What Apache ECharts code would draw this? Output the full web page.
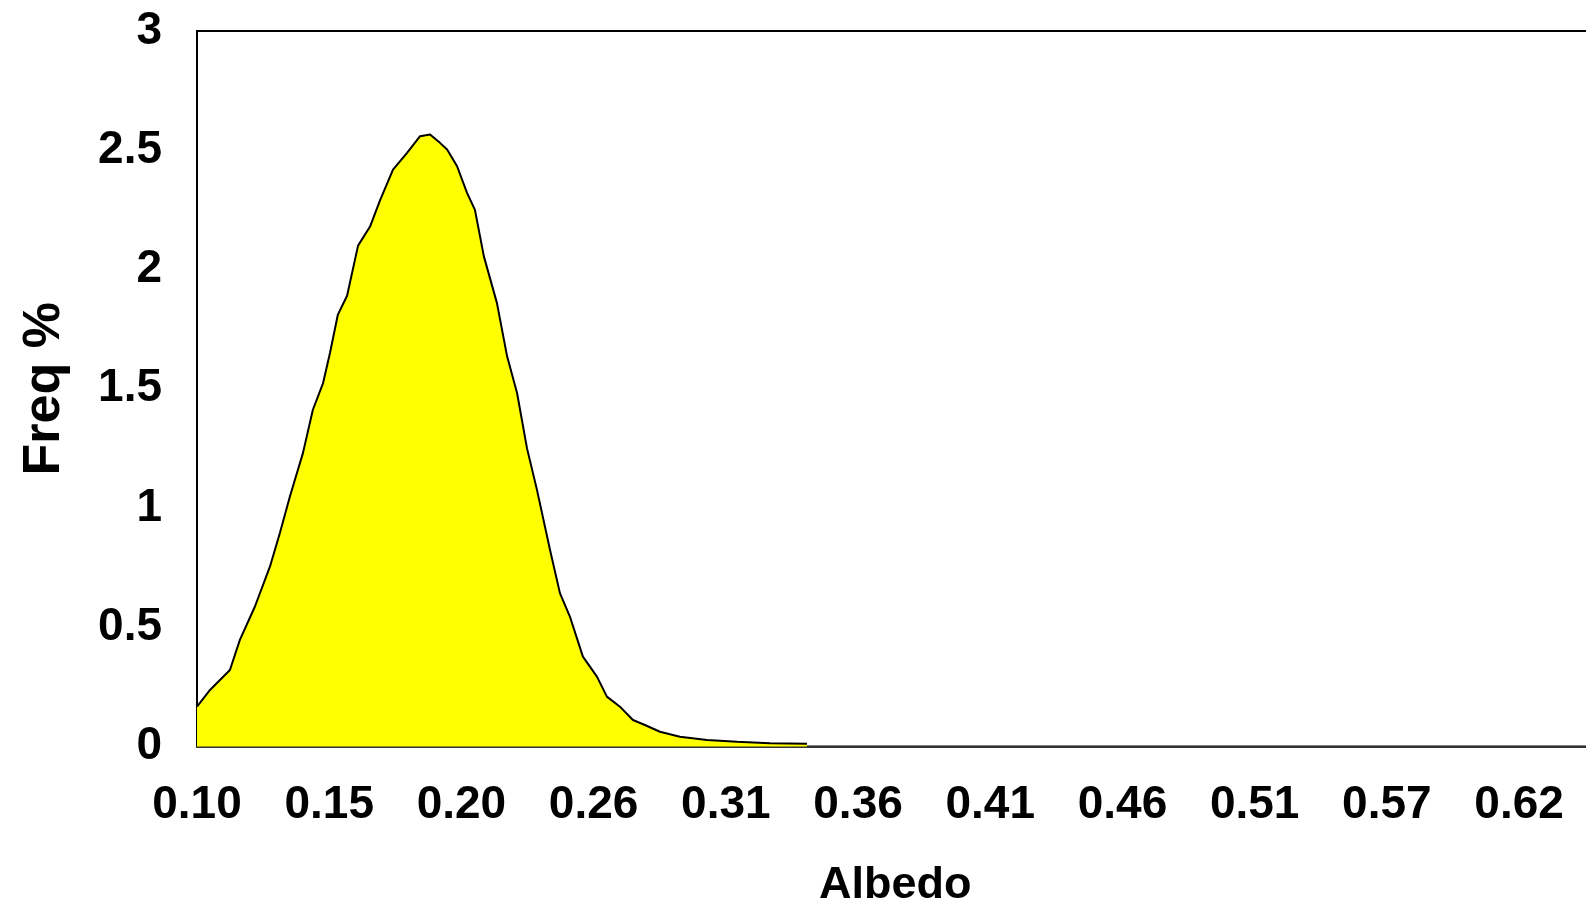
<!DOCTYPE html>
<html>
<head>
<meta charset="utf-8">
<script src="https://cdn.jsdelivr.net/npm/echarts@6/dist/echarts.min.js"></script>
<style>
  html, body { margin: 0; padding: 0; background: #fff; overflow: hidden; width: 1586px; height: 903px; }
  #chart { width: 1700px; height: 903px; }
</style>
</head>
<body>
<div id="chart"></div>
<script>
// Albedo values (x) and frequency % (y)
const albedo = [0.1000, 0.1051, 0.1129, 0.1168, 0.1227, 0.1286, 0.1325, 0.1364, 0.1415, 0.1454,
  0.1494, 0.1521, 0.1552, 0.1588, 0.1631, 0.1678, 0.1717, 0.1768, 0.1823, 0.1874,
  0.1913, 0.1952, 0.1980, 0.2019, 0.2058, 0.2089, 0.2124, 0.2175, 0.2215, 0.2254,
  0.2293, 0.2332, 0.2383, 0.2422, 0.2461, 0.2512, 0.2567, 0.2606, 0.2657, 0.2708,
  0.2755, 0.2814, 0.2892, 0.2998, 0.3116, 0.3245, 0.3390];
const freq = [0.167, 0.237, 0.321, 0.447, 0.587, 0.755, 0.896, 1.048, 1.230, 1.412,
  1.524, 1.650, 1.811, 1.890, 2.100, 2.180, 2.290, 2.419, 2.489, 2.559,
  2.566, 2.531, 2.503, 2.433, 2.321, 2.250, 2.055, 1.860, 1.636, 1.482,
  1.250, 1.076, 0.825, 0.643, 0.545, 0.377, 0.293, 0.209, 0.167, 0.111,
  0.090, 0.062, 0.041, 0.027, 0.020, 0.014, 0.012];
// X tick labels (one per label slot) and their albedo spacing
const xTickLabels = ['0.10', '0.15', '0.20', '0.26', '0.31', '0.36', '0.41', '0.46', '0.51', '0.57', '0.62', '0.67'];
const xStart = 0.10;
const xStep = 0.0518;
const yTickLabels = ['0', '0.5', '1', '1.5', '2', '2.5', '3'];

const seriesData = albedo.map((a, i) => [(a - xStart) / xStep, freq[i]]);

const font = '"Liberation Sans", Arial, sans-serif';
const chart = echarts.init(document.getElementById('chart'), null, { renderer: 'canvas' });
chart.setOption({
  backgroundColor: '#ffffff',
  animation: false,
  grid: {
    left: 197, top: 31, bottom: 156.5, right: 48.7,
    outerBoundsMode: 'none', containLabel: false,
    show: true, borderColor: '#000', borderWidth: 2, backgroundColor: 'transparent'
  },
  xAxis: {
    type: 'value',
    min: 0, max: xTickLabels.length - 1, interval: 1,
    name: 'Albedo', nameLocation: 'middle', nameGap: 117,
    nameTextStyle: { fontFamily: font, fontWeight: 'bold', fontSize: 45, color: '#000',
      padding: [0, 58, 0, 0] },
    axisLine: { show: true, lineStyle: { color: '#333', width: 2 } },
    axisTick: { show: false },
    splitLine: { show: false },
    axisLabel: {
      margin: 36, fontFamily: font, fontWeight: 'bold', fontSize: 46, color: '#000',
      formatter: v => xTickLabels[Math.round(v)]
    }
  },
  yAxis: {
    type: 'value',
    min: 0, max: 3, interval: 0.5,
    name: 'Freq %', nameLocation: 'middle', nameGap: 126, nameRotate: 90,
    nameTextStyle: { fontFamily: font, fontWeight: 'bold', fontSize: 52, color: '#000' },
    axisLine: { show: true, lineStyle: { color: '#000', width: 2 } },
    axisTick: { show: false },
    splitLine: { show: false },
    axisLabel: {
      margin: 35, fontFamily: font, fontWeight: 'bold', fontSize: 46, color: '#000',
      formatter: v => yTickLabels[Math.round(v * 2)]
    }
  },
  series: [{
    type: 'line',
    data: seriesData,
    showSymbol: false,
    smooth: false,
    lineStyle: { color: '#000', width: 2 },
    areaStyle: { color: '#ffff00', opacity: 1 },
    z: 3
  }]
});
</script>
</body>
</html>
